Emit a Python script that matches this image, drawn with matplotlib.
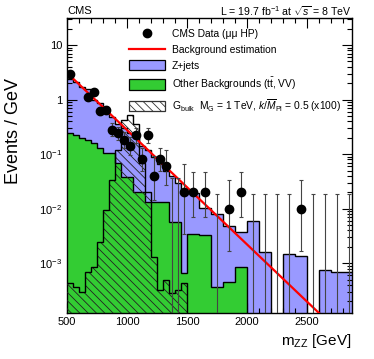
import numpy as np
import matplotlib.pyplot as plt
from matplotlib.patches import Patch
from matplotlib.lines import Line2D
from matplotlib.ticker import FixedLocator, NullFormatter, MultipleLocator

# bin edges: 50 GeV up to 1500, then 100 GeV
edges = [500, 550, 600, 650, 700, 750, 800, 850, 900, 950, 1000, 1050, 1100, 1150,
         1200, 1250, 1300, 1350, 1400, 1450, 1500, 1600, 1700, 1800, 1900, 2000,
         2100, 2200, 2300, 2400, 2500, 2600, 2700, 2800, 2900]

# stacked background (Z+jets on top of other), events / GeV
total_bkg = [2.4, 2.1, 1.7, 1.55, 1.0, 0.85, 0.6, 0.48, 0.36, 0.3,
             0.24, 0.2, 0.14, 0.12, 0.09, 0.065, 0.05, 0.04, 0.03, 0.02,
             0.0195, 0.0101, 0.0079, 0.0048, 0.0038, 0.0060, 0.0016, 0.0,
             0.00146, 0.00136, 0.0, 0.00076, 0.0007, 0.0007]
other_bkg = [0.245, 0.22, 0.195, 0.18, 0.157, 0.127, 0.103, 0.103, 0.068, 0.038,
             0.038, 0.02, 0.02, 0.0134, 0.0134, 0.0134, 0.0134, 0.0058, 0.0058, 0.00066,
             0.0035, 0.0033, 0.00037, 0.00046, 0.00085, 0, 0, 0,
             0, 0, 0, 0, 0, 0]
signal = [4.3e-4, 3.7e-4, 3.0e-4, 7e-4, 8.7e-4, 2.5e-3, 9.4e-3, 0.033, 0.12, 0.42,
          0.52, 0.36, 0.07, 0.02, 1.3e-3, 3.3e-4, 5e-4, 2.9e-4, 3.3e-4, 4.3e-4,
          0, 0, 0, 0, 0, 0, 0, 0, 0, 0, 0, 0, 0, 0]

# observed event counts per bin (None: no point shown)
data_counts = [145, None, None, 56, 69, 31, 32, 14, 12, 9,
               7, 11, 4, 11, 2, 4, 3, 0, 0, 1,
               2, 2, 0, 1, 2, 0, 0, 0, 0, 1, 0, 0, 0, 0]

# background fit (straight line in log scale)
fit_mass = [500, 2700]
fit_value = [3.1, 7.5e-5]

# approximate Poisson intervals (low, high) for small counts
poisson_small = {0: (0.0, 1.84), 1: (0.83, 2.30), 2: (1.29, 2.64), 3: (1.63, 2.92)}

edges_a = np.array(edges, float)
widths = np.diff(edges_a)
centers = 0.5 * (edges_a[1:] + edges_a[:-1])
shown = np.array([c is not None for c in data_counts])
counts = np.array([c if c is not None else 0 for c in data_counts], float)
err_lo = []
err_hi = []
for n in counts.astype(int):
    if n in poisson_small:
        lo, hi = poisson_small[n]
    else:
        lo = np.sqrt(n + 0.25) - 0.5
        hi = np.sqrt(n + 0.25) + 0.5
    err_lo.append(lo)
    err_hi.append(hi)
y_data = counts / widths
y_hi = (counts + np.array(err_hi)) / widths
y_lo = (counts - np.array(err_lo)) / widths

ymin, ymax = 1.25e-4, 32
floor = 1e-6

plt.rcParams['font.family'] = ['Liberation Sans', 'DejaVu Sans']
plt.rcParams['mathtext.fontset'] = 'custom'
plt.rcParams['mathtext.rm'] = 'Liberation Sans'
plt.rcParams['mathtext.it'] = 'Liberation Sans:italic'
plt.rcParams['hatch.linewidth'] = 0.6

fig = plt.figure(figsize=(3.74, 3.59), dpi=100)
ax = fig.add_axes([67 / 374, 1 - 312.5 / 359, (351.5 - 67) / 374, (312.5 - 17.5) / 359])

blue = '#9999ff'
green = '#33cc33'

tot = np.where(np.array(total_bkg) > 0, total_bkg, floor)
oth = np.where(np.array(other_bkg) > 0, other_bkg, floor)
sig = np.where(np.array(signal) > 0, signal, floor)

ax.stairs(tot, edges_a, fill=True, baseline=floor, facecolor=blue, edgecolor='none', zorder=1)
ax.stairs(tot, edges_a, baseline=None, color='black', lw=1.0, zorder=1.1)
ax.stairs(oth, edges_a, fill=True, baseline=floor, facecolor=green, edgecolor='none', zorder=2)
ax.stairs(oth, edges_a, baseline=None, color='black', lw=1.0, zorder=2.1)

ax.stairs(sig, edges_a, fill=True, baseline=floor, facecolor='none', edgecolor='#222222',
          hatch='\\\\\\\\', lw=0, zorder=3)
ax.stairs(sig, edges_a, baseline=None, color='black', lw=1.0, zorder=3.1)

ax.plot(fit_mass, fit_value, color='red', lw=1.6, zorder=4)

# data
lo_draw = np.where(y_lo > 0, y_lo, floor)
ax.vlines(centers[shown], lo_draw[shown], y_hi[shown], color='#444444', lw=0.8, zorder=5)
ax.plot(centers[shown], y_hi[shown], ls='none', marker='_', ms=3, mew=0.8, color='#444444', zorder=5)
low_cap = shown & (y_lo > 0)
ax.plot(centers[low_cap], y_lo[low_cap], ls='none', marker='_', ms=3, mew=0.8,
        color='#444444', zorder=5)
pts = shown & (counts > 0)
ax.plot(centers[pts], y_data[pts], ls='none', marker='o', ms=6, color='black', zorder=6)

ax.set_yscale('log')
ax.set_xlim(500, 2870)
ax.set_ylim(ymin, ymax)

ax.xaxis.set_major_locator(FixedLocator([500, 1000, 1500, 2000, 2500]))
ax.xaxis.set_minor_locator(MultipleLocator(100))
ax.yaxis.set_major_locator(FixedLocator([1e-3, 1e-2, 1e-1, 1, 10]))
ax.set_yticklabels(['10$^{-3}$', '10$^{-2}$', '10$^{-1}$', '1', '10'])
ax.yaxis.set_minor_locator(FixedLocator([k * 10.0 ** e for e in range(-4, 2) for k in range(2, 10)]))
ax.yaxis.set_minor_formatter(NullFormatter())
ax.tick_params(which='both', direction='in', top=True, right=True, labelsize=8, width=0.8)
ax.tick_params(which='major', length=7)
ax.tick_params(which='minor', length=3.5)
ax.tick_params(axis='x', pad=3)
for s in ax.spines.values():
    s.set_linewidth(1.0)

ax.set_ylabel('Events / GeV', fontsize=13)
ax.yaxis.set_label_coords(-0.159, 0.614)
ax.set_xlabel('m$_{\\rm ZZ}$ [GeV]', fontsize=11, loc='right', labelpad=4)

fig.text(67 / 374, 1 - 11 / 359, 'CMS', fontsize=8, va='center', ha='left')
fig.text(351 / 374, 1 - 11 / 359, 'L = 19.7 fb$^{-1}$ at $\\sqrt{s}$ = 8 TeV', fontsize=7.6,
         va='center', ha='right')

handles = [
    Line2D([], [], ls='none', marker='o', ms=6, color='black'),
    Line2D([], [], color='red', lw=1.6),
    Patch(facecolor=blue, edgecolor='black', lw=0.9),
    Patch(facecolor=green, edgecolor='black', lw=0.9),
    Patch(facecolor='white', edgecolor='#333333', hatch='\\\\\\\\', lw=0.9),
]
labels = [
    'CMS Data (\u03bc\u03bc HP)',
    'Background estimation',
    'Z+jets',
    'Other Backgrounds (t$\\bar{\\rm t}$, VV)',
    'G$_{\\rm bulk}$  M$_{\\rm G}$ = 1 TeV, $k/\\overline{M}_{\\rm Pl}$ = 0.5 (x100)',
]
ax.legend(handles, labels, loc='upper left', bbox_to_anchor=(0.218, 0.962), frameon=False,
          fontsize=7.4, handlelength=3.5, handleheight=1.15, labelspacing=0.5,
          handletextpad=0.68, borderpad=0, borderaxespad=0)

fig.savefig('out.png', dpi=100)
